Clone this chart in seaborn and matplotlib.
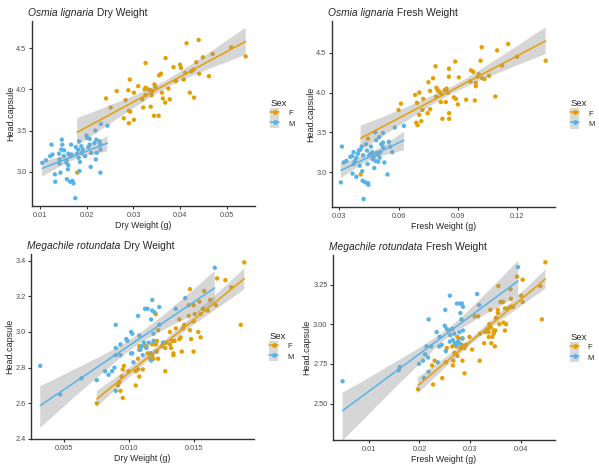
import numpy as np
import pandas as pd
import matplotlib
matplotlib.use("Agg")
import matplotlib.pyplot as plt
import seaborn as sns
from matplotlib.ticker import MultipleLocator, FormatStrFormatter
from matplotlib.lines import Line2D
from matplotlib.patches import Patch
from matplotlib.legend_handler import HandlerTuple

# Osmia lignaria, dry weight
od_f_x = [0.0440, 0.0414, 0.0510, 0.0470, 0.0541, 0.0449, 0.0369, 0.0326, 0.0435, 0.0400,
          0.0402, 0.0386, 0.0429, 0.0424, 0.0441, 0.0411, 0.0462, 0.0359, 0.0355, 0.0408,
          0.0292, 0.0391, 0.0375, 0.0345, 0.0347, 0.0326, 0.0324, 0.0332, 0.0336, 0.0301,
          0.0289, 0.0310, 0.0264, 0.0341, 0.0361, 0.0339, 0.0326, 0.0421, 0.0430, 0.0363,
          0.0378, 0.0319, 0.0368, 0.0241, 0.0283, 0.0251, 0.0321, 0.0337, 0.0290, 0.0293,
          0.0344, 0.0354, 0.0279, 0.0301, 0.0290, 0.0179]
od_f_y = [4.60, 4.56, 4.51, 4.43, 4.40, 4.39, 4.38, 4.32, 4.33, 4.30,
          4.26, 4.27, 4.24, 4.22, 4.19, 4.20, 4.16, 4.19, 4.17, 4.12,
          4.12, 4.10, 4.01, 4.06, 4.03, 4.02, 4.00, 4.00, 3.99, 3.96,
          3.99, 4.04, 3.98, 3.98, 3.96, 3.93, 3.93, 3.96, 3.90, 3.89,
          3.88, 3.88, 3.84, 3.89, 3.87, 3.78, 3.78, 3.79, 3.74, 3.73,
          3.68, 3.68, 3.65, 3.63, 3.59, 2.99]
od_m_x = [0.0104, 0.0112, 0.0124, 0.0121, 0.0126, 0.0131, 0.0132, 0.0140, 0.0141, 0.0145,
          0.0146, 0.0147, 0.0143, 0.0141, 0.0150, 0.0151, 0.0156, 0.0156, 0.0159, 0.0160,
          0.0160, 0.0157, 0.0164, 0.0166, 0.0167, 0.0169, 0.0171, 0.0175, 0.0179, 0.0181,
          0.0183, 0.0182, 0.0184, 0.0185, 0.0188, 0.0189, 0.0191, 0.0196, 0.0199, 0.0201,
          0.0203, 0.0206, 0.0206, 0.0208, 0.0209, 0.0216, 0.0218, 0.0219, 0.0220, 0.0221,
          0.0227, 0.0229, 0.0229, 0.0229, 0.0230, 0.0244, 0.0176, 0.0165]
od_m_y = [3.11, 3.14, 3.33, 3.19, 3.21, 2.97, 2.88, 3.22, 3.15, 3.27,
          3.39, 3.33, 2.99, 3.10, 3.19, 3.26, 3.14, 3.11, 3.03, 3.22,
          3.08, 2.91, 2.88, 3.33, 3.21, 2.89, 2.86, 2.68, 3.22, 3.27,
          3.37, 3.17, 3.01, 3.12, 3.31, 3.23, 3.27, 3.19, 3.44, 3.41,
          3.30, 3.40, 3.33, 3.06, 3.23, 3.35, 3.50, 3.15, 3.39, 3.23,
          3.37, 3.33, 3.27, 2.99, 3.58, 3.56, 3.30, 3.19]

# Osmia lignaria, fresh weight
of_f_x = [0.1155, 0.1021, 0.1099, 0.1200, 0.1345, 0.1015, 0.0887, 0.1124, 0.0787, 0.0967,
          0.0978, 0.0855, 0.0905, 0.0855, 0.1058, 0.1006, 0.1035, 0.1023, 0.1001, 0.0964,
          0.0991, 0.0775, 0.0751, 0.0991, 0.0792, 0.0796, 0.0801, 0.0807, 0.0843, 0.0833,
          0.0760, 0.0705, 0.0684, 0.0816, 0.0850, 0.0790, 0.0880, 0.1090, 0.0942, 0.0890,
          0.0986, 0.0725, 0.0839, 0.0814, 0.0900, 0.0612, 0.0600, 0.0693, 0.0760, 0.0721,
          0.0705, 0.0747, 0.0856, 0.0822, 0.0856, 0.0715, 0.0690, 0.0696, 0.0408, 0.0445]
of_f_y = [4.61, 4.57, 4.53, 4.45, 4.40, 4.40, 4.39, 4.34, 4.33, 4.28,
          4.26, 4.30, 4.19, 4.20, 4.21, 4.23, 4.17, 4.18, 4.20, 4.14,
          4.12, 4.18, 4.13, 4.08, 4.06, 4.04, 4.02, 4.01, 4.05, 4.03,
          4.02, 4.00, 3.97, 3.98, 4.00, 3.95, 3.94, 3.95, 3.91, 3.92,
          3.90, 3.92, 3.88, 3.88, 3.85, 3.86, 3.78, 3.87, 3.79, 3.78,
          3.72, 3.74, 3.74, 3.67, 3.67, 3.64, 3.62, 3.59, 2.97, 3.42]
of_m_x = [0.0313, 0.0308, 0.0322, 0.0336, 0.0356, 0.0364, 0.0372, 0.0367, 0.0372, 0.0379,
          0.0386, 0.0386, 0.0394, 0.0399, 0.0403, 0.0406, 0.0413, 0.0416, 0.0418, 0.0420,
          0.0423, 0.0431, 0.0435, 0.0440, 0.0443, 0.0445, 0.0447, 0.0452, 0.0457, 0.0460,
          0.0467, 0.0469, 0.0474, 0.0477, 0.0482, 0.0487, 0.0490, 0.0494, 0.0497, 0.0504,
          0.0507, 0.0512, 0.0521, 0.0521, 0.0528, 0.0522, 0.0544, 0.0551, 0.0558, 0.0568,
          0.0581, 0.0627, 0.0502, 0.0484]
of_m_y = [3.32, 2.87, 3.12, 3.14, 3.19, 3.20, 3.25, 2.98, 3.10, 3.14,
          2.94, 3.18, 3.23, 3.27, 3.08, 3.28, 3.32, 3.01, 2.89, 3.21,
          2.66, 2.87, 3.35, 3.27, 3.10, 2.86, 2.84, 3.21, 3.23, 3.32,
          3.25, 3.16, 3.19, 3.05, 3.50, 3.40, 3.24, 3.22, 3.13, 3.18,
          3.25, 3.35, 3.49, 3.37, 3.12, 3.31, 2.97, 3.38, 3.32, 3.25,
          3.56, 3.58, 3.44, 3.14]

# Megachile rotundata, dry weight
md_f_x = [0.01885, 0.01676, 0.01740, 0.01785, 0.01467, 0.01576, 0.01622, 0.01667, 0.01540, 0.01458,
          0.01495, 0.01567, 0.01604, 0.01549, 0.01504, 0.01458, 0.01386, 0.01422, 0.01495, 0.01204,
          0.01467, 0.01413, 0.01358, 0.01531, 0.01858, 0.01313, 0.01222, 0.01395, 0.01476, 0.01549,
          0.01386, 0.01349, 0.01331, 0.01286, 0.01268, 0.01313, 0.01250, 0.01322, 0.01213, 0.01404,
          0.01495, 0.01340, 0.01340, 0.01177, 0.01204, 0.01132, 0.01122, 0.01077, 0.01277, 0.01159,
          0.01177, 0.01222, 0.01141, 0.01159, 0.01186, 0.01213, 0.01077, 0.01068, 0.00959, 0.01068,
          0.00950, 0.01104, 0.01050, 0.00995, 0.01077, 0.01277, 0.00941, 0.00923, 0.00914, 0.01050,
          0.00932, 0.00950, 0.00750]
md_f_y = [3.39, 3.30, 3.29, 3.25, 3.24, 3.23, 3.18, 3.15, 3.17, 3.15,
          3.15, 3.13, 3.12, 3.10, 3.10, 3.09, 3.07, 3.04, 3.06, 3.10,
          3.01, 3.02, 3.02, 3.00, 3.04, 3.00, 3.01, 2.97, 2.96, 2.97,
          2.96, 2.95, 2.95, 2.94, 2.94, 2.93, 2.92, 2.91, 2.95, 2.89,
          2.89, 2.88, 2.87, 2.93, 2.93, 2.92, 2.92, 2.92, 2.91, 2.88,
          2.87, 2.85, 2.88, 2.85, 2.85, 2.89, 2.90, 2.85, 2.81, 2.79,
          2.79, 2.79, 2.78, 2.78, 2.75, 2.78, 2.75, 2.72, 2.70, 2.70,
          2.67, 2.63, 2.60]
md_m_x = [0.00315, 0.00469, 0.00632, 0.00750, 0.00814, 0.00841, 0.00868, 0.00886, 0.00896, 0.00896,
          0.00896, 0.00896, 0.00932, 0.00932, 0.00977, 0.00986, 0.01014, 0.01023, 0.01014, 0.01023,
          0.01032, 0.01068, 0.01077, 0.01086, 0.01095, 0.01104, 0.01122, 0.01113, 0.01132, 0.01141,
          0.01150, 0.01168, 0.01168, 0.01177, 0.01177, 0.01186, 0.01195, 0.01186, 0.01204, 0.01231,
          0.01231, 0.01259, 0.01358, 0.01431, 0.01658, 0.01168]
md_m_y = [2.81, 2.65, 2.74, 2.73, 2.78, 2.76, 2.78, 2.80, 2.87, 2.91,
          3.04, 2.67, 2.87, 2.93, 2.96, 2.95, 3.00, 2.99, 2.88, 2.88,
          2.83, 3.09, 2.98, 2.90, 2.92, 2.87, 3.13, 2.94, 2.91, 3.13,
          2.94, 2.88, 3.07, 3.18, 3.12, 2.99, 3.11, 2.95, 2.89, 3.14,
          3.04, 2.94, 3.13, 3.19, 3.36, 2.84]

# Megachile rotundata, fresh weight
mf_f_x = [0.0449, 0.0393, 0.0404, 0.0439, 0.0356, 0.0380, 0.0401, 0.0404, 0.0381, 0.0360,
          0.0365, 0.0369, 0.0376, 0.0381, 0.0385, 0.0355, 0.0340, 0.0355, 0.0309, 0.0316,
          0.0351, 0.0366, 0.0358, 0.0371, 0.0338, 0.0442, 0.0341, 0.0335, 0.0347, 0.0369,
          0.0330, 0.0350, 0.0337, 0.0347, 0.0320, 0.0344, 0.0337, 0.0299, 0.0285, 0.0278,
          0.0275, 0.0328, 0.0342, 0.0349, 0.0304, 0.0292, 0.0284, 0.0281, 0.0273, 0.0265,
          0.0289, 0.0254, 0.0269, 0.0275, 0.0319, 0.0285, 0.0230, 0.0252, 0.0267, 0.0266,
          0.0225, 0.0289, 0.0245, 0.0227, 0.0197]
mf_f_y = [3.39, 3.30, 3.28, 3.24, 3.24, 3.22, 3.18, 3.14, 3.16, 3.14,
          3.14, 3.10, 3.10, 3.11, 3.11, 3.09, 3.09, 3.07, 3.05, 3.05,
          3.04, 3.01, 3.00, 3.00, 3.00, 3.03, 2.98, 2.97, 2.96, 2.96,
          2.95, 2.96, 2.95, 2.94, 2.94, 2.92, 2.92, 2.92, 2.91, 2.91,
          2.92, 2.88, 2.88, 2.86, 2.84, 2.87, 2.87, 2.85, 2.86, 2.86,
          2.85, 2.85, 2.82, 2.80, 2.77, 2.77, 2.77, 2.76, 2.77, 2.74,
          2.74, 2.69, 2.66, 2.62, 2.59]
mf_m_x = [0.0048, 0.0161, 0.0159, 0.0199, 0.0207, 0.0211, 0.0214, 0.0217, 0.0218, 0.0209,
          0.0218, 0.0223, 0.0234, 0.0239, 0.0236, 0.0240, 0.0244, 0.0250, 0.0252, 0.0254,
          0.0251, 0.0258, 0.0260, 0.0260, 0.0261, 0.0265, 0.0266, 0.0269, 0.0270, 0.0273,
          0.0274, 0.0276, 0.0279, 0.0279, 0.0280, 0.0281, 0.0283, 0.0284, 0.0285, 0.0286,
          0.0286, 0.0314, 0.0318, 0.0395]
mf_m_y = [2.64, 2.73, 2.71, 2.75, 2.77, 2.81, 2.86, 2.79, 3.03, 2.66,
          2.70, 2.86, 2.95, 2.86, 2.76, 2.92, 2.87, 2.99, 2.83, 2.97,
          3.09, 2.96, 3.18, 2.89, 2.93, 2.97, 2.90, 2.94, 2.88, 2.87,
          3.13, 2.89, 2.95, 2.88, 3.13, 3.07, 3.03, 3.13, 2.91, 3.11,
          2.96, 3.19, 3.12, 3.36]

sexes = ["F", "M"]
palette = {"F": "#E69F00", "M": "#56B4E9"}

sns.set_style("ticks")
plt.rcParams["font.family"] = ["Liberation Sans", "DejaVu Sans"]

fig = plt.figure(figsize=(5.99, 4.68), dpi=100)
W, H = 599, 468


def make_ax(left, top, right, bottom):
    return fig.add_axes([left / W, 1 - bottom / H, (right - left) / W, (bottom - top) / H])


def panel(ax, fx, fy, mx, my, species, rest, xlabel, xstep, xfmt, ystep, yfmt,
          xlim, ylim, ylab_x):
    df = pd.DataFrame({
        "weight": fx + mx,
        "head": fy + my,
        "Sex": ["F"] * len(fx) + ["M"] * len(mx),
    })
    sns.scatterplot(data=df, x="weight", y="head", hue="Sex", palette=palette,
                    s=10, linewidth=0, ax=ax, legend=False)
    for sex in sexes:
        sub = df[df["Sex"] == sex]
        n = len(ax.collections)
        sns.regplot(data=sub, x="weight", y="head", scatter=False, color=palette[sex],
                    ax=ax, seed=3, line_kws={"lw": 1.1})
        # grey ribbon like ggplot's geom_smooth
        for c in ax.collections[n:]:
            c.set_facecolor("#999999")
            c.set_edgecolor("none")
            c.set_alpha(0.4)
    ax.set_xlim(*xlim)
    ax.set_ylim(*ylim)
    sns.despine(ax=ax)
    for s in ["left", "bottom"]:
        ax.spines[s].set_color("#333333")
        ax.spines[s].set_linewidth(1.0)
    ax.xaxis.set_major_locator(MultipleLocator(xstep))
    ax.xaxis.set_major_formatter(FormatStrFormatter(xfmt))
    ax.yaxis.set_major_locator(MultipleLocator(ystep))
    ax.yaxis.set_major_formatter(FormatStrFormatter(yfmt))
    ax.tick_params(colors="#333333", labelcolor="#4D4D4D", labelsize=5.3,
                   length=2.5, width=0.8, pad=1.5)
    ax.set_xlabel(xlabel, fontsize=6.3, labelpad=2)
    ax.set_ylabel("Head.capsule", fontsize=6.5)
    ax.yaxis.set_label_coords(ylab_x, 0.5)

    # title: italic species name followed by plain text
    t1 = ax.text(-0.017, 1.027, species, style="italic", fontsize=7.4,
                 transform=ax.transAxes, va="baseline", ha="left")
    ax.annotate(" " + rest, xy=(1, 0), xycoords=t1, va="bottom", ha="left", fontsize=7.4)

    handles = []
    for sex in sexes:
        bg = Patch(facecolor="#D9D9D9", edgecolor="none")
        ln = Line2D([0, 1], [0, 0], color=palette[sex], lw=1.1, marker="o", markersize=2.5)
        handles.append((bg, ln))
    ax.legend(handles, sexes, title="Sex", loc="center left", bbox_to_anchor=(1.055, 0.5),
              frameon=False, fontsize=5.5, title_fontsize=6.8, handlelength=1.2,
              handleheight=1.65, labelspacing=0.0, handletextpad=1.1, borderaxespad=0,
              handler_map={tuple: HandlerTuple(ndivide=1, pad=0)}, numpoints=1,
              alignment="left")


ax1 = make_ax(32, 21, 255, 206)
panel(ax1, od_f_x, od_f_y, od_m_x, od_m_y, "Osmia lignaria", "Dry Weight",
      "Dry Weight (g)", 0.01, "%.2f", 0.5, "%.1f",
      (0.0082, 0.0561), (2.585, 4.83), -0.076)

ax2 = make_ax(332, 21, 555, 207)
panel(ax2, of_f_x, of_f_y, of_m_x, of_m_y, "Osmia lignaria", "Fresh Weight",
      "Fresh Weight (g)", 0.03, "%.2f", 0.5, "%.1f",
      (0.0263, 0.1392), (2.56, 4.90), -0.076)

ax3 = make_ax(31, 254, 254, 439)
panel(ax3, md_f_x, md_f_y, md_m_x, md_m_y, "Megachile rotundata", "Dry Weight",
      "Dry Weight (g)", 0.005, "%.3f", 0.2, "%.1f",
      (0.00244, 0.0196), (2.40, 3.437), -0.076)

ax4 = make_ax(333, 255, 555, 440)
panel(ax4, mf_f_x, mf_f_y, mf_m_x, mf_m_y, "Megachile rotundata", "Fresh Weight",
      "Fresh Weight (g)", 0.01, "%.2f", 0.25, "%.2f",
      (0.0029, 0.0468), (2.27, 3.436), -0.097)

fig.savefig("out.png", dpi=100)
